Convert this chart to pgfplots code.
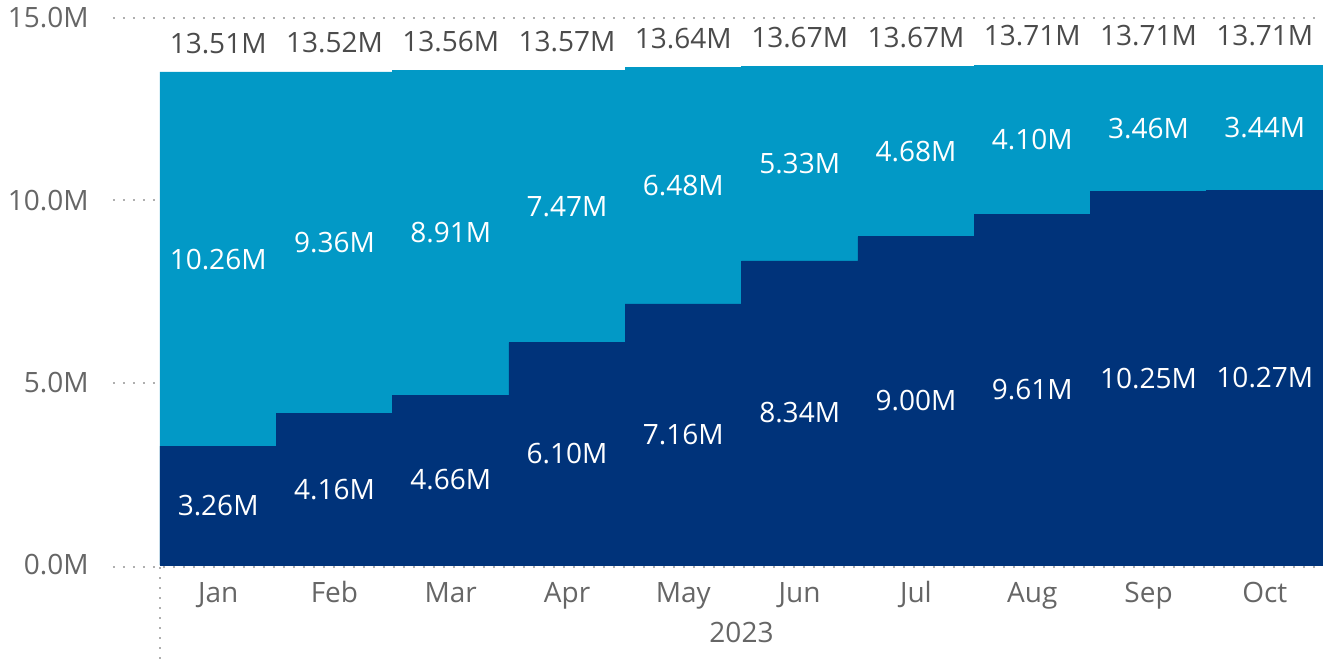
\documentclass[border=0pt]{standalone}
\usepackage{fontspec}
\setmainfont{Open Sans}
\usepackage{pgfplots}
\usepackage{pgfplotstable}
\pgfplotsset{compat=1.18}
\definecolor{navy}{RGB}{0,51,122}
\definecolor{lightblue}{RGB}{2,153,198}
\definecolor{ticktext}{RGB}{102,102,102}
\definecolor{totaltext}{RGB}{75,75,75}
\definecolor{dotgray}{RGB}{175,175,175}

\pgfplotstableread{
x a b t la lb lt
0 3.26 10.26 13.51 3.26M 10.26M 13.51M
1 4.16 9.36 13.52 4.16M 9.36M 13.52M
2 4.66 8.91 13.56 4.66M 8.91M 13.56M
3 6.10 7.47 13.57 6.10M 7.47M 13.57M
4 7.16 6.48 13.64 7.16M 6.48M 13.64M
5 8.34 5.33 13.67 8.34M 5.33M 13.67M
6 9.00 4.68 13.67 9.00M 4.68M 13.67M
7 9.61 4.10 13.71 9.61M 4.10M 13.71M
8 10.25 3.46 13.71 10.25M 3.46M 13.71M
9 10.27 3.44 13.71 10.27M 3.44M 13.71M
}\data

\tikzset{griddots/.style={dotgray, line width=0.9pt, dash pattern=on 0.9pt off 4.1pt}}

\begin{document}
\begin{tikzpicture}[font=\fontsize{14pt}{16pt}\selectfont]
\useasboundingbox (-80pt,-47pt) rectangle (581.5pt,282.5pt);
\begin{axis}[
  scale only axis, width=581.5pt, height=273.5pt,
  at={(0,0)}, anchor=south west,
  xmin=-0.5, xmax=9.5, ymin=0, ymax=15,
  clip=false,
  axis line style={draw=none}, major tick length=0pt,
  xtick={0,...,9},
  xticklabels={Jan,Feb,Mar,Apr,May,Jun,Jul,Aug,Sep,Oct},
  ytick={0,5,10,15},
  yticklabels={0.0M,5.0M,10.0M,15.0M},
  xticklabel style={anchor=base, yshift=-18.5pt, text=ticktext},
  yticklabel style={anchor=east, inner sep=0pt, xshift=-35.5pt, text=ticktext},
]
% grid lines (the ones at 5 and 10 are hidden behind the bars)
\draw[griddots] ([xshift=-23.5pt]axis cs:-0.5,15) -- (axis cs:9.5,15);
\draw[griddots] ([xshift=-23.5pt]axis cs:-0.5,10) -- (axis cs:-0.5,10);
\draw[griddots] ([xshift=-23.5pt]axis cs:-0.5,5) -- (axis cs:-0.5,5);

\addplot[ybar, bar width=1, bar shift=0pt, fill=lightblue, draw=lightblue, line width=0.3pt]
  table[x=x, y expr=\thisrow{a}+\thisrow{b}] {\data};
\addplot[ybar, bar width=1, bar shift=0pt, fill=navy, draw=navy, line width=0.3pt]
  table[x=x, y=a] {\data};

\draw[griddots] ([xshift=-23.5pt,yshift=-1pt]axis cs:-0.5,0) -- ([yshift=-1pt]axis cs:9.5,0);
\draw[griddots] ([yshift=-1pt]axis cs:-0.5,0) -- ([yshift=-47pt]axis cs:-0.5,0);

% value labels
\addplot[draw=none, mark=none, point meta=explicit symbolic,
  nodes near coords={\pgfplotspointmeta},
  every node near coord/.style={anchor=center, text=white}]
  table[x=x, y expr=\thisrow{a}/2, meta=la] {\data};
\addplot[draw=none, mark=none, point meta=explicit symbolic,
  nodes near coords={\pgfplotspointmeta},
  every node near coord/.style={anchor=center, text=white}]
  table[x=x, y expr=\thisrow{a}+\thisrow{b}/2, meta=lb] {\data};
\addplot[draw=none, mark=none, point meta=explicit symbolic,
  nodes near coords={\pgfplotspointmeta},
  every node near coord/.style={anchor=center, yshift=14.5pt, text=totaltext}]
  table[x=x, y=t, meta=lt] {\data};

\node[anchor=base, text=ticktext] at ([yshift=-38.5pt]rel axis cs:0.5,0) {2023};
\end{axis}
\end{tikzpicture}
\end{document}
